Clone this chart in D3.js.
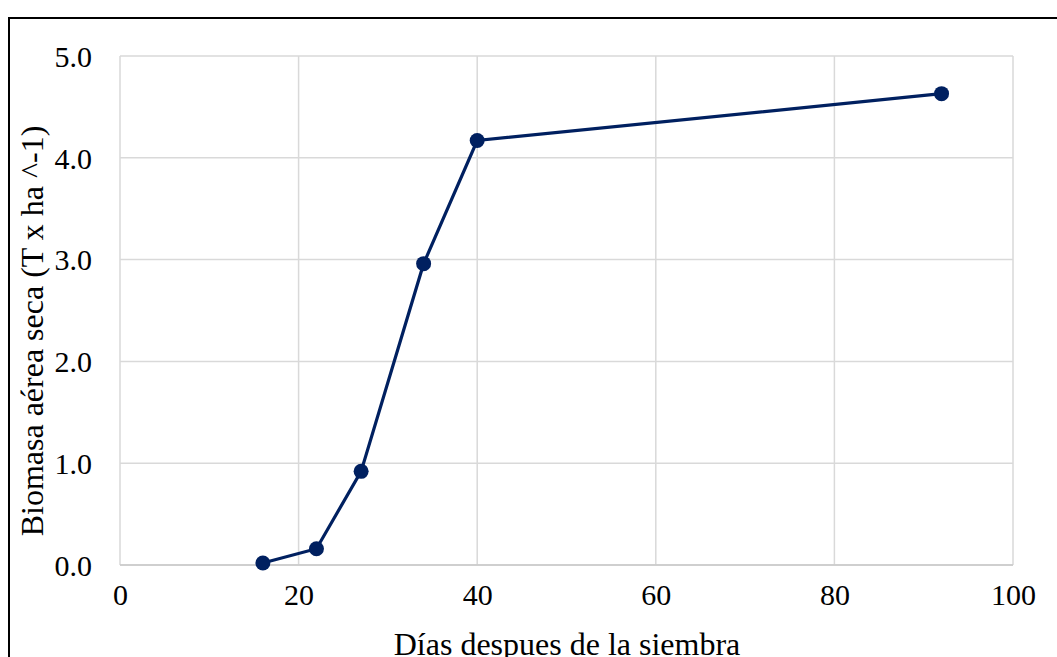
<!DOCTYPE html>
<html>
<head>
  <meta charset="utf-8">
  <script src="https://d3js.org/d3.v7.min.js"></script>
  <style>
    body { margin: 0; background: #fff; }
  </style>
</head>
<body>
  <div class="chart"></div>
  <script>
    // values
    var dias = [16, 22, 27, 34, 40, 92];
    var biomasa = [0.02, 0.16, 0.92, 2.96, 4.17, 4.63];
    var xTicks = [0, 20, 40, 60, 80, 100];
    var yTicks = [0, 1, 2, 3, 4, 5];

    var width = 1057, height = 657;
    var plot = {left: 120, right: 1013, top: 56, bottom: 565};
    var serif = '"Liberation Serif", "Times New Roman", serif';

    var svg = d3.select('.chart').append('svg')
      .attr('width', width)
      .attr('height', height);

    // outer frame, runs past the right and bottom edges
    svg.append('rect')
      .attr('x', 9).attr('y', 18)
      .attr('width', 1100).attr('height', 700)
      .attr('fill', 'none')
      .attr('stroke', '#000')
      .attr('stroke-width', 2);

    var x = d3.scaleLinear().domain([0, 100]).range([plot.left, plot.right]);
    var y = d3.scaleLinear().domain([0, 5]).range([plot.bottom, plot.top]);

    // gridlines
    var grid = svg.append('g');
    grid.selectAll('.gx').data(xTicks).enter().append('line')
      .attr('x1', function(d) { return x(d); })
      .attr('x2', function(d) { return x(d); })
      .attr('y1', plot.top).attr('y2', plot.bottom)
      .attr('stroke', '#d9d9d9').attr('stroke-width', 1.5);
    grid.selectAll('.gy').data(yTicks).enter().append('line')
      .attr('y1', function(d) { return y(d); })
      .attr('y2', function(d) { return y(d); })
      .attr('x1', plot.left).attr('x2', plot.right)
      .attr('stroke', '#d9d9d9').attr('stroke-width', 1.5);
    svg.append('line')
      .attr('x1', plot.left).attr('x2', plot.right)
      .attr('y1', plot.bottom).attr('y2', plot.bottom)
      .attr('stroke', '#c8c8c8').attr('stroke-width', 1.5);

    // axes (labels only)
    var xAxis = svg.append('g')
      .attr('transform', 'translate(0,' + plot.bottom + ')')
      .call(d3.axisBottom(x).tickValues(xTicks).tickSize(0).tickPadding(19));
    var yAxis = svg.append('g')
      .attr('transform', 'translate(' + plot.left + ',0)')
      .call(d3.axisLeft(y).tickValues(yTicks).tickFormat(d3.format('.1f')).tickSize(0).tickPadding(28));
    [xAxis, yAxis].forEach(function(a) {
      a.attr('font-family', null).attr('font-size', null);
      a.select('.domain').remove();
      a.selectAll('text')
        .style('font-size', '30px')
        .style('font-family', serif)
        .style('fill', '#000');
    });
    yAxis.selectAll('text').attr('dy', '0.34em');

    // axis titles
    svg.append('text')
      .attr('x', 567)
      .attr('y', 655)
      .attr('text-anchor', 'middle')
      .style('font-size', '32px')
      .style('font-family', serif)
      .text('Días despues de la siembra');
    svg.append('text')
      .attr('transform', 'translate(43,331) rotate(-90)')
      .attr('text-anchor', 'middle')
      .style('font-size', '32px')
      .style('font-family', serif)
      .text('Biomasa aérea seca (T x ha ^-1)');

    // series
    var pts = dias.map(function(d, i) { return {x: d, y: biomasa[i]}; });
    var line = d3.line()
      .x(function(d) { return x(d.x); })
      .y(function(d) { return y(d.y); });
    svg.append('path')
      .datum(pts)
      .attr('d', line)
      .attr('fill', 'none')
      .attr('stroke', '#002060')
      .attr('stroke-width', 3.2);
    svg.selectAll('.pt').data(pts).enter().append('circle')
      .attr('cx', function(d) { return x(d.x); })
      .attr('cy', function(d) { return y(d.y); })
      .attr('r', 7.5)
      .attr('fill', '#002060');
  </script>
</body>
</html>
